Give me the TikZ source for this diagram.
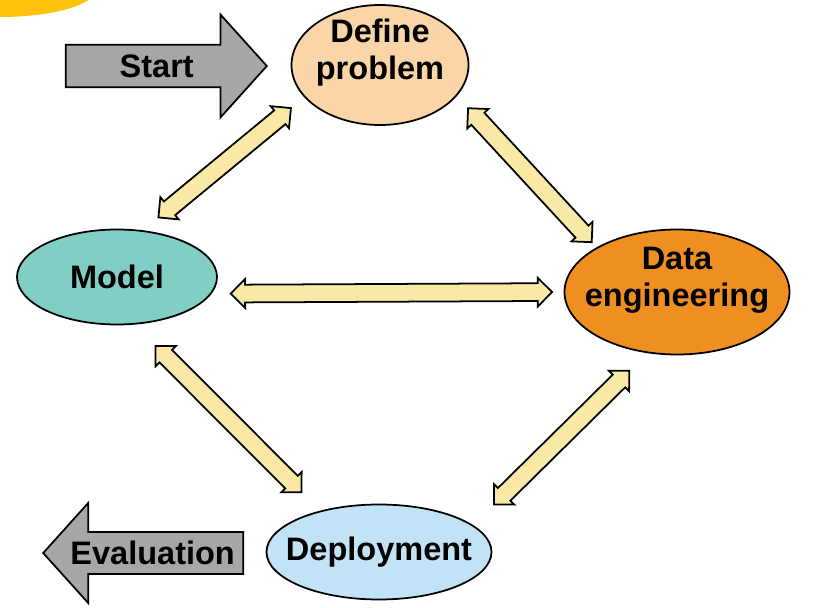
\documentclass[tikz,border=0pt]{standalone}
\usepackage{fontspec}
\setmainfont{Liberation Sans}
\usetikzlibrary{shapes.geometric,shapes.arrows,calc}

\definecolor{defcol}{HTML}{F9D5A8}
\definecolor{modcol}{HTML}{80CEC4}
\definecolor{datcol}{HTML}{EF8F22}
\definecolor{depcol}{HTML}{C2E3F6}
\definecolor{arrgray}{HTML}{A7A7A7}
\definecolor{linkcol}{HTML}{F8EAA6}
\definecolor{blobcol}{HTML}{FDC20C}

% double arrow between two anchors, gaps at both ends
\newcommand{\dlink}[4]{%
  \path let \p1=($(#1)!#3!(#2)$), \p2=($(#2)!#4!(#1)$),
    \n1={veclen(\x2-\x1,\y2-\y1)}, \n2={atan2(\y2-\y1,\x2-\x1)} in
    node[link, minimum height=\n1, rotate=\n2] at ($(\p1)!0.5!(\p2)$) {};}

\begin{document}
\begin{tikzpicture}[
    stage/.style={ellipse, draw, line width=1pt, inner sep=0pt},
    txt/.style={font=\fontsize{18.5}{21}\selectfont\bfseries, align=center},
    link/.style={double arrow, draw, line width=1pt, fill=linkcol, inner xsep=0pt,
      inner ysep=0.16cm, double arrow head extend=0.11cm},
    big/.style={single arrow, draw, line width=1pt, fill=arrgray, inner sep=2pt,
      single arrow head extend=0.45cm, single arrow tip angle=96,
      font=\fontsize{18.5}{21}\selectfont\bfseries}
  ]
  \useasboundingbox (0,0) rectangle (16.5,12.14);
  \begin{scope}
    \clip (0,0) rectangle (16.5,12.14);
    \fill[blobcol] (0,12.34) ellipse (1.9 and 0.54);
  \end{scope}

  \node[stage, fill=defcol, minimum width=3.54cm, minimum height=2.4cm,
    label={[txt, yshift=0.25cm]center:Define\\problem}] (def) at (7.6,10.84) {};
  \node[stage, fill=modcol, minimum width=4.0cm, minimum height=1.9cm,
    label={[txt]center:Model}] (mod) at (2.34,6.6) {};
  \node[stage, fill=datcol, minimum width=4.5cm, minimum height=2.5cm,
    label={[txt, yshift=0.24cm]center:Data\\engineering}] (dat) at (13.54,6.3) {};
  \node[stage, fill=depcol, minimum width=4.5cm, minimum height=1.9cm,
    label={[txt]center:Deployment}] (dep) at (7.58,1.1) {};

  \node[big, minimum height=4.02cm, minimum width=2.06cm, anchor=tip] (start) at (5.36,10.82) {Start};
  \node[big, shape border rotate=180, minimum height=4.0cm, minimum width=2.0cm, anchor=tip] (eval) at (0.84,1.08) {Evaluation};

  \dlink{mod.61}{def.203}{0.4cm}{0.34cm}
  \dlink{def.338}{dat.151}{0.33cm}{0.14cm}
  \dlink{mod.-10}{dat.west}{0.38cm}{0.23cm}
  \dlink{mod.-70}{dep.145}{0.6cm}{0.52cm}
  \dlink{dep.16}{dat.244}{0.58cm}{0.5cm}
\end{tikzpicture}
\end{document}
